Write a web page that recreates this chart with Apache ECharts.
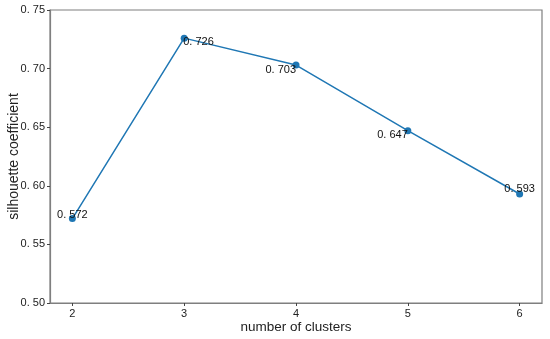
<!DOCTYPE html>
<html>
<head>
<meta charset="utf-8">
<script src="https://cdn.jsdelivr.net/npm/echarts@6/dist/echarts.min.js"></script>
<style>html,body{margin:0;padding:0;background:#fff}#c{width:550px;height:339px}</style>
</head>
<body>
<div id="c"></div>
<script>
var clusters = [2, 3, 4, 5, 6];
var silhouette = [0.572, 0.726, 0.703, 0.647, 0.593];
var pointLabels = ['0. 572', '0. 726', '0. 703', '0. 647', '0. 593'];
var yTicks = [0.50, 0.55, 0.60, 0.65, 0.70, 0.75];
var xTitle = 'number of clusters';
var yTitle = 'silhouette coefficient';

var labelPos = [
  {align: 'center', verticalAlign: 'middle', offset: [0, -4]},
  {align: 'left', verticalAlign: 'middle', offset: [-1, 4]},
  {align: 'right', verticalAlign: 'middle', offset: [0, 5]},
  {align: 'right', verticalAlign: 'middle', offset: [0, 4]},
  {align: 'center', verticalAlign: 'middle', offset: [0, -5]}
];

var chart = echarts.init(document.getElementById('c'), null, {renderer: 'canvas'});
var axisColor = '#7f7f7f';
var font = 'Liberation Sans, Arial, sans-serif';
chart.setOption({
  animation: false,
  backgroundColor: '#ffffff',
  grid: {left: 50, right: 8, top: 10, bottom: 36, show: true, borderColor: axisColor, borderWidth: 1.2,
    backgroundColor: 'transparent', containLabel: false, outerBoundsMode: 'none'},
  xAxis: {
    type: 'value', min: 1.8, max: 6.2,
    name: xTitle, nameLocation: 'middle', nameGap: 17, nameMoveOverlap: false,
    nameTextStyle: {fontSize: 13.5, color: '#222', fontFamily: font, verticalAlign: 'top'},
    axisLine: {show: true, onZero: false, lineStyle: {color: axisColor, width: 1.2}},
    axisTick: {show: true, length: 3, lineStyle: {color: '#444'}, customValues: clusters},
    axisLabel: {customValues: clusters, fontSize: 11, color: '#222', margin: 5, fontFamily: font},
    splitLine: {show: false}
  },
  yAxis: {
    type: 'value', min: 0.5, max: 0.75, interval: 0.05,
    name: yTitle, nameLocation: 'middle', nameGap: 29, nameRotate: 90, nameMoveOverlap: false,
    nameTextStyle: {fontSize: 14, color: '#222', fontFamily: font},
    axisLine: {show: true, lineStyle: {color: axisColor, width: 1.2}},
    axisTick: {show: true, length: 3, lineStyle: {color: '#444'}},
    axisLabel: {fontSize: 11, color: '#222', margin: 5, fontFamily: font,
      formatter: function (v) {
        for (var i = 0; i < yTicks.length; i++) {
          if (Math.abs(yTicks[i] - v) < 1e-9) return yTicks[i].toFixed(2).replace('.', '. ');
        }
        return '';
      }},
    splitLine: {show: false}
  },
  series: [{
    type: 'line',
    data: clusters.map(function (x, i) {
      return {value: [x, silhouette[i]], label: Object.assign({show: true, formatter: pointLabels[i]}, labelPos[i])};
    }),
    symbol: 'circle', symbolSize: 7,
    lineStyle: {color: '#1f77b4', width: 1.5},
    itemStyle: {color: '#1f77b4'},
    label: {show: true, color: '#111', fontSize: 11, fontFamily: font, position: 'inside'}
  }]
});
</script>
</body>
</html>
